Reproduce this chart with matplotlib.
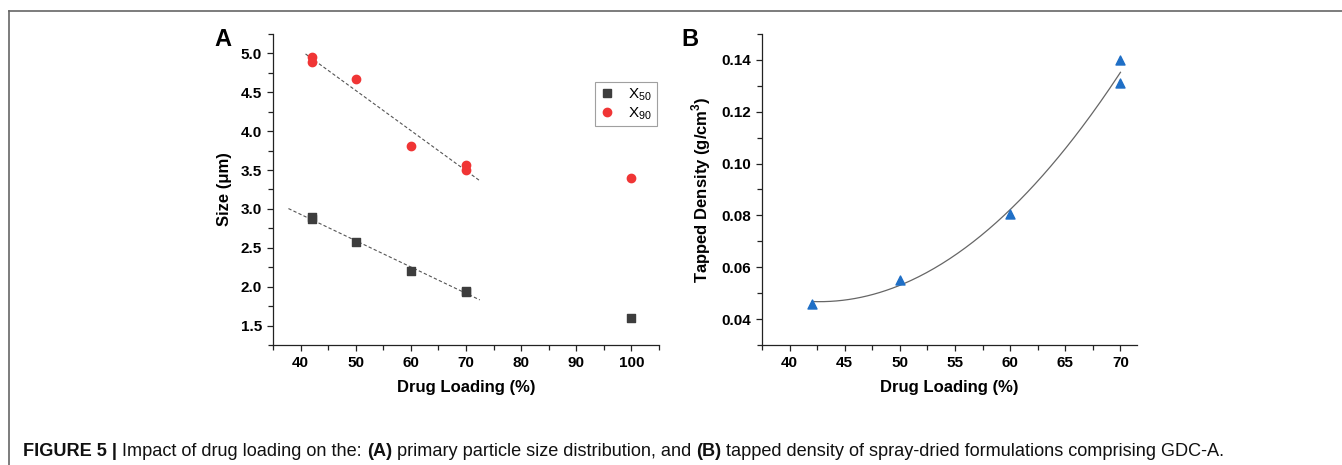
import numpy as np
import matplotlib
matplotlib.use("Agg")
import matplotlib.pyplot as plt
from matplotlib.ticker import MultipleLocator
from matplotlib.lines import Line2D

plt.rcParams['font.family'] = ['Liberation Sans', 'DejaVu Sans']
plt.rcParams['mathtext.fontset'] = 'custom'
plt.rcParams['mathtext.rm'] = 'Liberation Sans'
plt.rcParams['mathtext.bf'] = 'Liberation Sans:bold'

# ---- Data (panel A) ----
x50_loading = [42, 42, 50, 60, 70, 70, 100]
x50_size = [2.89, 2.87, 2.57, 2.20, 1.94, 1.93, 1.60]
x90_loading = [42, 42, 50, 60, 70, 70, 100]
x90_size = [4.95, 4.89, 4.67, 3.81, 3.57, 3.50, 3.40]

# ---- Data (panel B) ----
td_loading = [42, 50, 60, 70, 70]
td_density = [0.046, 0.055, 0.0805, 0.140, 0.131]

W, H = 1342, 465
fig = plt.figure(figsize=(W / 100, H / 100), dpi=100)

def px_axes(l, t, r, b):
    return fig.add_axes([l / W, 1 - b / H, (r - l) / W, (b - t) / H])

tick_kw = dict(labelsize=11, width=0.9, length=4.5, direction='out', color='#222222')

def style(ax):
    for s in ['top', 'right']:
        ax.spines[s].set_visible(False)
    for s in ['left', 'bottom']:
        ax.spines[s].set_linewidth(0.9)
        ax.spines[s].set_color('#222222')
    ax.tick_params(which='major', **tick_kw)
    ax.tick_params(which='minor', width=0.9, length=3.5, direction='out', color='#222222')
    for lab in ax.get_xticklabels() + ax.get_yticklabels():
        lab.set_fontweight('bold')

# ---------- Panel A ----------
axA = px_axes(273, 34, 659, 345)
axA.scatter(x50_loading, x50_size, marker='s', s=28, color='#3d3d3d', zorder=3)
axA.scatter(x90_loading, x90_size, marker='o', s=36, color='#f03535', zorder=3)

# linear fits on 42-70 % data
x50a = np.array(x50_loading[:-1]); y50a = np.array(x50_size[:-1])
x90a = np.array(x90_loading[:-1]); y90a = np.array(x90_size[:-1])
p50 = np.polyfit(x50a, y50a, 1)
p90 = np.polyfit(x90a, y90a, 1)
xl50 = np.array([37.8, 72.5]); xl90 = np.array([40.9, 72.5])
axA.plot(xl50, np.polyval(p50, xl50), ls=(0, (3, 2)), lw=0.8, color='#555555', zorder=2)
axA.plot(xl90, np.polyval(p90, xl90), ls=(0, (3, 2)), lw=0.8, color='#555555', zorder=2)

axA.set_xlim(35, 105)
axA.set_ylim(1.25, 5.25)
axA.xaxis.set_major_locator(MultipleLocator(10))
axA.xaxis.set_minor_locator(MultipleLocator(5))
axA.yaxis.set_major_locator(MultipleLocator(0.5))
axA.yaxis.set_minor_locator(MultipleLocator(0.25))
axA.yaxis.set_major_formatter(matplotlib.ticker.FormatStrFormatter('%.1f'))
style(axA)
axA.set_xlabel('Drug Loading (%)', fontsize=12, fontweight='bold', labelpad=7)
axA.set_ylabel('Size (\u03bcm)', fontsize=12, fontweight='bold', labelpad=6)

handles = [Line2D([], [], ls='none', marker='s', ms=5.5, color='#3d3d3d'),
           Line2D([], [], ls='none', marker='o', ms=6, color='#f03535')]
leg = axA.legend(handles, ['X$_{50}$', 'X$_{90}$'], loc='upper right',
                 bbox_to_anchor=(0.994, 0.847), borderaxespad=0, fontsize=11,
                 frameon=True, fancybox=False, edgecolor='#888888', handlelength=1.0,
                 handletextpad=0.9, borderpad=0.3, labelspacing=0.15)
leg.get_frame().set_linewidth(0.8)

fig.text(223 / W, 1 - 40 / H, 'A', fontsize=17, fontweight='bold', ha='center', va='center')

# ---------- Panel B ----------
axB = px_axes(762, 34, 1137, 345)
axB.scatter(td_loading, td_density, marker='^', s=42, color='#1f6fc6', zorder=3)
pB = np.polyfit(td_loading, td_density, 2)
xc = np.linspace(42, 70, 200)
axB.plot(xc, np.polyval(pB, xc), color='#666666', lw=0.9, zorder=2)
axB.set_xlim(37.5, 71.5)
axB.set_ylim(0.03, 0.15)
axB.xaxis.set_major_locator(MultipleLocator(5))
axB.xaxis.set_minor_locator(MultipleLocator(2.5))
axB.yaxis.set_major_locator(MultipleLocator(0.02))
axB.yaxis.set_minor_locator(MultipleLocator(0.01))
axB.yaxis.set_major_formatter(matplotlib.ticker.FormatStrFormatter('%.2f'))
style(axB)
axB.set_xlabel('Drug Loading (%)', fontsize=12, fontweight='bold', labelpad=7)
axB.set_ylabel('Tapped Density (g/cm$^\\mathbf{3}$)', fontsize=12, fontweight='bold', labelpad=6)

fig.text(690 / W, 1 - 40 / H, 'B', fontsize=17, fontweight='bold', ha='center', va='center')

# ---------- Frame ----------
fig.add_artist(Line2D([9 / W, 9 / W], [0, 1 - 11 / H], transform=fig.transFigure,
                      color='#666666', lw=1.2))
fig.add_artist(Line2D([9 / W, 1], [1 - 11 / H, 1 - 11 / H], transform=fig.transFigure,
                      color='#666666', lw=1.2))

# ---------- Caption ----------
cap_ax = fig.add_axes([0, 0, 1, 1], facecolor='none')
cap_ax.set_axis_off()
pieces = [("FIGURE 5 |", 'bold'),
          (" Impact of drug loading on the: ", 'normal'),
          ("(A)", 'bold'),
          (" primary particle size distribution, and ", 'normal'),
          ("(B)", 'bold'),
          (" tapped density of spray-dried formulations comprising GDC-A.", 'normal')]
prev = None
cs = 13.1
for txt, wt in pieces:
    if prev is None:
        prev = cap_ax.text(23 / W, 1 - 456 / H, txt, fontsize=cs, fontweight=wt,
                           ha='left', va='baseline', color='#111111')
    else:
        prev = cap_ax.annotate(txt, xy=(1, 0), xycoords=prev, fontsize=cs,
                               fontweight=wt, ha='left', va='bottom', color='#111111')

fig.savefig('out.png', dpi=100)
